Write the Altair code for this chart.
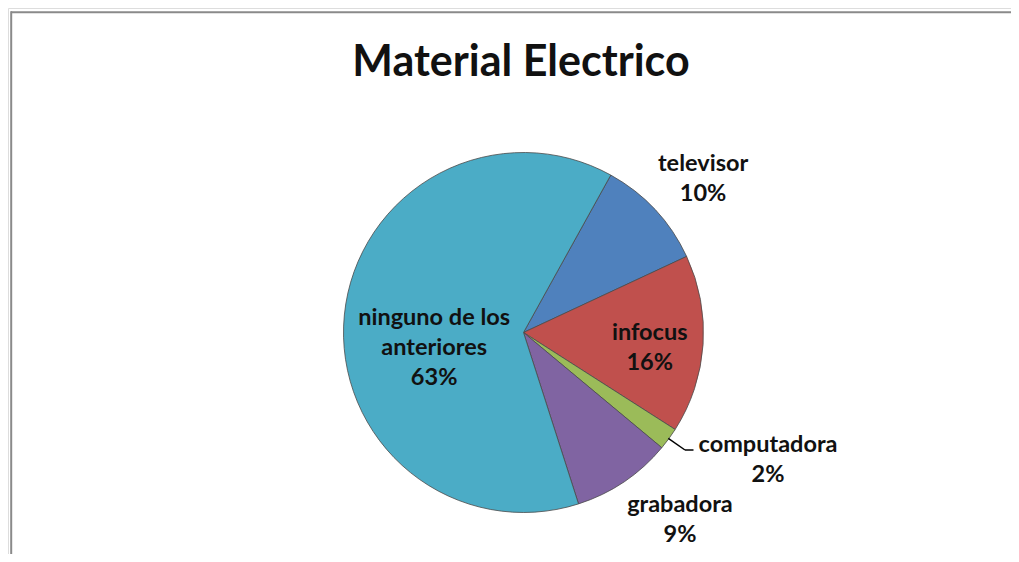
import altair as alt
import pandas as pd
import math

# ---- data ----
categories = ["televisor", "infocus", "computadora", "grabadora", "ninguno de los anteriores"]
display_names = ["televisor", "infocus", "computadora", "grabadora", "ninguno de los\nanteriores"]
percents = [10, 16, 2, 9, 63]
colors = ["#4F81BD", "#C0504D", "#9BBB59", "#8064A2", "#4BACC6"]

df = pd.DataFrame({
    "cat": categories,
    "name": display_names,
    "pct": percents,
    "idx": list(range(len(categories))),
})
df["label"] = df["name"] + "\n" + df["pct"].astype(str) + "%"
df["mid"] = df["pct"].cumsum() - df["pct"] / 2

W, H = 1003, 546
CX, CY = 515.5, 324.5
R = 180
LH = 30
start = math.radians(29)
theta_scale = alt.Scale(domain=[0, 100], range=[start, start + 2 * math.pi])
color_scale = alt.Scale(domain=categories, range=colors)

FONT = "Lato"

base = alt.Chart(df)

pie = base.mark_arc(outerRadius=R, stroke="#4a4a4a", strokeWidth=0.8).encode(
    theta=alt.Theta("pct:Q", stack=True, scale=theta_scale),
    order=alt.Order("idx:Q"),
    color=alt.Color("cat:N", scale=color_scale, legend=None),
    x=alt.value(CX),
    y=alt.value(CY),
)

# per-label placement (radius, dx, dy, number of lines)
placement = {
    "televisor": (236, 7, 7.5, 2),
    "infocus": (127.5, -1, 7, 2),
    "computadora": (275.7, 22, -35, 2),
    "grabadora": (244, 20, -15, 2),
    "ninguno de los anteriores": (90.8, 1, 24, 3),
}

label_layers = []
for cat, (r, dx, dy, n) in placement.items():
    label_layers.append(
        base.transform_filter(alt.datum.cat == cat).mark_text(
            radius=r, dx=dx, dy=dy - (n - 1) * LH / 2, font=FONT, fontWeight="bold",
            fontSize=23.5, lineBreak="\n", lineHeight=LH, align="center",
            baseline="middle", color="#111111",
        ).encode(
            theta=alt.Theta("mid:Q", stack=False, scale=theta_scale),
            text="label:N",
            x=alt.value(CX),
            y=alt.value(CY),
        )
    )

one = alt.Chart(pd.DataFrame({"a": [0]}))

leader1 = one.mark_rule(color="#000000", strokeWidth=1.5).encode(
    x=alt.value(660.3), y=alt.value(430.3), x2=alt.value(677), y2=alt.value(442)
)
leader2 = one.mark_rule(color="#000000", strokeWidth=1.5).encode(
    x=alt.value(677), y=alt.value(442), x2=alt.value(685.5), y2=alt.value(442)
)

frame_top = one.mark_rule(color="#8a8a8a", strokeWidth=2, orient="horizontal").encode(
    x=alt.value(3), x2=alt.value(W + 40), y=alt.value(4.2)
)
frame_left = one.mark_rule(color="#8a8a8a", strokeWidth=2, orient="vertical").encode(
    x=alt.value(3.2), y=alt.value(3.2), y2=alt.value(H + 40)
)

title = one.mark_text(
    text="Material Electrico", font=FONT, fontWeight="bold", fontSize=43,
    align="center", baseline="middle", color="#111111",
).encode(x=alt.value(513), y=alt.value(55))

chart = alt.layer(
    frame_top, frame_left, pie, *label_layers, leader1, leader2, title
).properties(
    width=W, height=H,
    padding=0,
    autosize=alt.AutoSizeParams(type="none"),
).configure_view(stroke="transparent", strokeWidth=0).configure(background="#ffffff")

chart.save("out.html", embed_options={"renderer": "svg", "actions": False})
